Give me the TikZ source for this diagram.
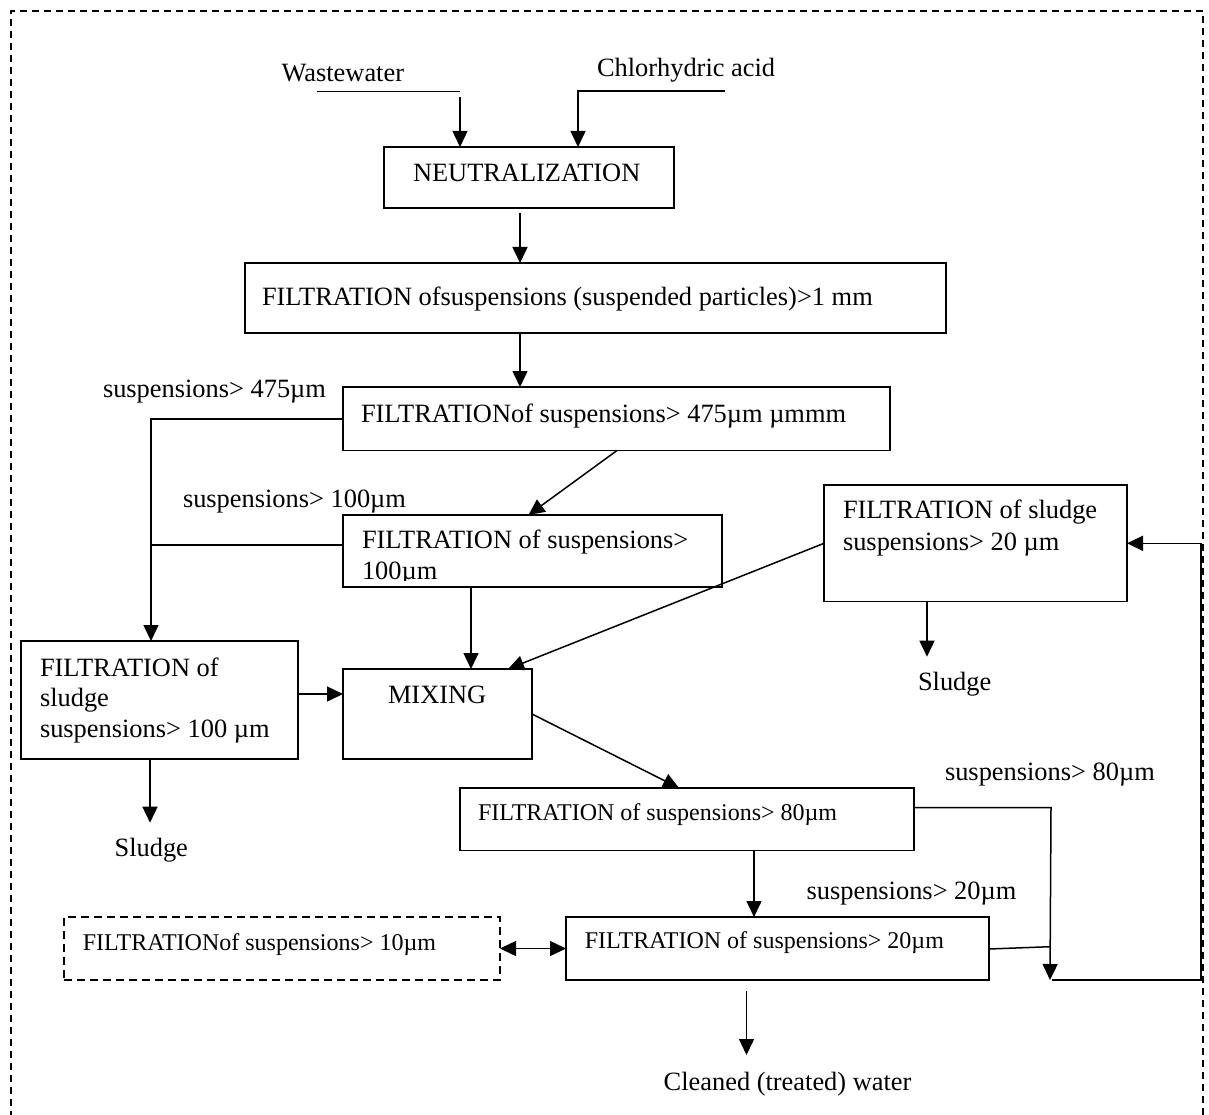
\documentclass[tikz,border=0pt]{standalone}
\usepackage{fontspec}
\setmainfont{Liberation Serif}
\usetikzlibrary{arrows.meta}
\begin{document}
\begin{tikzpicture}[x=1pt,y=-1pt,
  box/.style={draw, line width=1.8pt, inner sep=0pt, outer sep=0pt},
  dbox/.style={box, dash pattern=on 8pt off 5pt},
  txt/.style={anchor=base west, inner sep=0pt, outer sep=0pt, font=\fontsize{26.4}{31.5}\selectfont},
  stxt/.style={txt, font=\fontsize{24}{29}\selectfont},
  conn/.style={line width=1.5pt},
  arr/.style={conn, -{Triangle[length=16pt,width=15pt]}},
  darr/.style={conn, {Triangle[length=16pt,width=15pt]}-{Triangle[length=16pt,width=15pt]}},
  frame/.style={line width=1.8pt, dash pattern=on 7pt off 5pt}]
\useasboundingbox (0,0) rectangle (1209,1115);
% outer dashed frame
\draw[frame] (11,1130) -- (11,11) -- (1203,11) -- (1203,1130);

% boxes
\node[box, minimum width=290pt, minimum height=61pt] (neut) at (529,177.5) {};
\node[box, minimum width=701pt, minimum height=70pt] (f1) at (595.5,298) {};
\node[box, minimum width=547pt, minimum height=63.5pt] (f475) at (616.5,418.75) {};
\node[box, minimum width=379pt, minimum height=72pt] (f100) at (532.5,551) {};
\node[box, minimum width=277pt, minimum height=118pt] (fs100) at (159.5,700) {};
\node[box, minimum width=189pt, minimum height=90pt] (mix) at (437.5,714) {};
\node[box, minimum width=303pt, minimum height=116.5pt] (fs20) at (975.5,543.25) {};
\node[box, minimum width=454pt, minimum height=62.5pt] (f80) at (687,819.25) {};
\node[box, minimum width=423pt, minimum height=63pt] (f20) at (777.5,948.5) {};
\node[dbox, minimum width=436pt, minimum height=63pt] (f10) at (282,948.5) {};

% texts
\node[txt] (tww) at (281.6,81.7) {Wastewater};
\node[txt] (tha) at (597,77) {Chlorhydric acid};
\node[txt] (tneut) at (413,181.7) {NEUTRALIZATION};
\node[txt] (tf1) at (262,305) {FILTRATION ofsuspensions (suspended particles)>1 mm};
\node[txt] (tl475) at (103,397) {suspensions> 475µm};
\node[txt] (tf475) at (361,422) {FILTRATIONof suspensions> 475µm µmmm};
\node[txt] (tl100) at (183,507) {suspensions> 100µm};
\node[txt] (tf100a) at (362,548) {FILTRATION of suspensions>};
\begin{scope}
  \clip (343,515) rectangle (722,580.5);
  \node[txt] (tf100b) at (362,579) {100µm};
\end{scope}
\node[txt] (tfs100a) at (40,676) {FILTRATION of};
\node[txt] (tfs100b) at (40,706) {sludge};
\node[txt] (tfs100c) at (40,737) {suspensions> 100 µm};
\node[txt] (tmix) at (388,703) {MIXING};
\node[txt] (tsl1) at (114.6,856.7) {Sludge};
\node[txt] (tfs20a) at (843,518) {FILTRATION of sludge};
\node[txt] (tfs20b) at (843,550) {suspensions> 20 µm};
\node[txt] (tsl2) at (918,690.7) {Sludge};
\node[txt] (tl80) at (945,780) {suspensions> 80µm};
\node[stxt] (tf80) at (478,820) {FILTRATION of suspensions> 80µm};
\node[txt] (tl20) at (806.6,899) {suspensions> 20µm};
\node[stxt] (tf20) at (584.8,948.3) {FILTRATION of suspensions> 20µm};
\node[stxt] (tf10) at (82.9,950) {FILTRATIONof suspensions> 10µm};
\node[txt] (tcw) at (663.7,1090) {Cleaned (treated) water};

% connector coordinates
\coordinate (wwL) at (316.6,91.7);
\coordinate (wwR) at (460,91.7);
\coordinate (wwD) at (460,96.7);
\coordinate (haR) at (725,91);
\coordinate (haC) at (578,91);
\coordinate (nOut) at (520,213);
\coordinate (j475) at (151,419);
\coordinate (j100) at (151,545);
\coordinate (fOut475) at (617,450.5);
\coordinate (fIn100) at (528.5,515);
\coordinate (mixIn) at (508,669);
\coordinate (sl2tip) at (927,656.7);
\coordinate (sl1tip) at (150,822.7);
\coordinate (f80In) at (679,788);
\coordinate (j80) at (1051,807.7);
\coordinate (j80b) at (1050,980);
\coordinate (j20) at (1050,946.7);
\coordinate (fbA) at (1052,980);
\coordinate (fbB) at (1201,980);
\coordinate (fbC) at (1201,543.3);
\coordinate (cwS) at (746.5,990.7);
\coordinate (cwE) at (746.5,1055);

% connectors
\draw[conn] (wwL) -- (wwR);
\draw[arr] (wwD) -- (neut.north -| wwD);
\draw[arr] (haR) -- (haC) -- (neut.north -| haC);
\draw[arr] (nOut) -- (f1.north -| nOut);
\draw[arr] (f1.south -| nOut) -- (f475.north -| nOut);
\draw[arr] (f475.west |- j475) -- (j475) -- (fs100.north -| j475);
\draw[conn] (f100.west |- j100) -- (j100);
\draw[arr] (fOut475) -- (fIn100);
\draw[arr] (f100.south -| 471,0) -- (mix.north -| 471,0);
\draw[arr] (fs100.east |- 0,694) -- (mix.west |- 0,694);
\draw[arr] (fs20.west |- fbC) -- (mixIn);
\draw[arr] (fs20.south -| sl2tip) -- (sl2tip);
\draw[arr] (fs100.south -| sl1tip) -- (sl1tip);
\draw[arr] (mix.east |- 0,714) -- (f80In);
\draw[arr] (f80.south -| 754,0) -- (f20.north -| 754,0);
\draw[arr] (f80.east |- j80) -- (j80) -- (j80b);
\draw[conn] (f20.east |- 0,949) -- (j20);
\draw[arr] (fbA) -- (fbB) -- (fbC) -- (fs20.east |- fbC);
\draw[darr] (f10.east) -- (f20.west);
\draw[arr] (cwS) -- (cwE);
\end{tikzpicture}
\end{document}
